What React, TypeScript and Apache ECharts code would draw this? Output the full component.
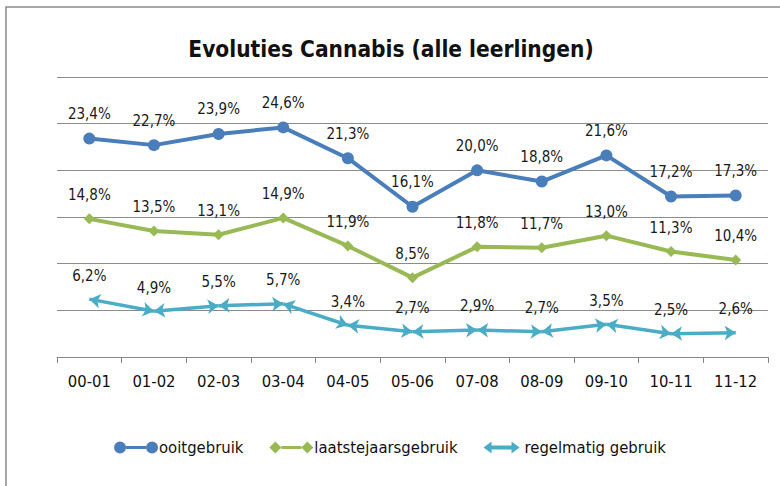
import React, { useEffect, useRef } from "react";
import * as echarts from "echarts";

const categories = ["00-01", "01-02", "02-03", "03-04", "04-05", "05-06", "07-08", "08-09", "09-10", "10-11", "11-12"];
const ooitgebruik = [23.4, 22.7, 23.9, 24.6, 21.3, 16.1, 20.0, 18.8, 21.6, 17.2, 17.3];
const laatstejaarsgebruik = [14.8, 13.5, 13.1, 14.9, 11.9, 8.5, 11.8, 11.7, 13.0, 11.3, 10.4];
const regelmatigGebruik = [6.2, 4.9, 5.5, 5.7, 3.4, 2.7, 2.9, 2.7, 3.5, 2.5, 2.6];
const seriesNames = ["ooitgebruik", "laatstejaarsgebruik", "regelmatig gebruik"];
const titleText = "Evoluties Cannabis (alle leerlingen)";

const FONT = "'DejaVu Sans Condensed', 'DejaVu Sans', sans-serif";
const BLUE = "#4A7EBB";
const GREEN = "#98B954";
const TEAL = "#4BACC6";

const fmt = (p: any) => {
  const v = Array.isArray(p.value) ? p.value[1] : p.value;
  return Number(v).toFixed(1).replace(".", ",") + "%";
};

const circleIcon =
  "path://M0,6 a6,6 0 1,0 12,0 a6,6 0 1,0 -12,0 Z M12,4.5 L32,4.5 L32,7.5 L12,7.5 Z M32,6 a6,6 0 1,0 12,0 a6,6 0 1,0 -12,0 Z";
const diamondIcon =
  "path://M0,6 L6,0 L12,6 L6,12 Z M12,4.5 L32,4.5 L32,7.5 L12,7.5 Z M32,6 L38,0 L44,6 L38,12 Z";
const arrowIcon =
  "path://M4,6 L12,0 L12,4 L32,4 L32,0 L40,6 L32,12 L32,8 L12,8 L12,12 Z";

export default function App() {
  const ref = useRef<HTMLDivElement>(null);
  useEffect(() => {
    document.body.style.margin = "0";
    if (!ref.current) return;
    const chart = echarts.init(ref.current, null, { renderer: "svg" });
    const segData = regelmatigGebruik.slice(0, -1).map((v, i) => ({
      coords: [
        [categories[i], v],
        [categories[i + 1], regelmatigGebruik[i + 1]],
      ],
    }));
    const labelStyle = {
      show: true,
      position: "top" as const,
      fontFamily: FONT,
      fontSize: 15,
      color: "#1a1a1a",
      formatter: fmt,
    };
    chart.setOption({
      animation: false,
      backgroundColor: "#ffffff",
      title: {
        text: titleText,
        left: 386,
        textAlign: "center",
        top: 32,
        textStyle: { fontFamily: FONT, fontSize: 22.5, fontWeight: "bold", color: "#111" },
      },
      grid: { left: 57, right: 12, top: 77, bottom: 129 },
      legend: {
        bottom: 25,
        left: "center",
        itemWidth: 44,
        itemHeight: 12,
        itemGap: 26,
        textStyle: { fontFamily: FONT, fontSize: 16.5, color: "#111", padding: [0, 0, 0, -4] },
        data: [
          { name: seriesNames[0], icon: circleIcon, itemStyle: { color: BLUE } },
          { name: seriesNames[1], icon: diamondIcon, itemStyle: { color: GREEN } },
          { name: seriesNames[2], icon: arrowIcon, itemStyle: { color: TEAL } },
        ],
      },
      xAxis: {
        type: "category",
        data: categories,
        boundaryGap: true,
        axisLine: { lineStyle: { color: "#868686", width: 1 } },
        axisTick: { show: true, length: 6, lineStyle: { color: "#868686" } },
        axisLabel: { fontFamily: FONT, fontSize: 16.5, color: "#111", margin: 16 },
      },
      yAxis: {
        type: "value",
        min: 0,
        max: 30,
        interval: 5,
        axisLabel: { show: false },
        axisLine: { show: false },
        axisTick: { show: false },
        splitLine: { lineStyle: { color: "#8c8c8c", width: 1 } },
      },
      graphic: [
        {
          type: "rect",
          shape: { x: 6, y: 7, width: 800, height: 600 },
          style: { fill: "none", stroke: "#8a8a8a", lineWidth: 1.5 },
          silent: true,
        },
      ],
      series: [
        {
          name: seriesNames[0],
          type: "line",
          data: ooitgebruik,
          symbol: "circle",
          symbolSize: 12,
          lineStyle: { color: BLUE, width: 4 },
          itemStyle: { color: BLUE },
          label: { ...labelStyle, distance: 11 },
          z: 3,
        },
        {
          name: seriesNames[1],
          type: "line",
          data: laatstejaarsgebruik,
          symbol: "diamond",
          symbolSize: 11,
          lineStyle: { color: GREEN, width: 4 },
          itemStyle: { color: GREEN },
          label: { ...labelStyle, distance: 11 },
          z: 3,
        },
        {
          name: seriesNames[2],
          type: "line",
          data: regelmatigGebruik,
          symbol: "circle",
          symbolSize: 2,
          lineStyle: { color: "rgba(0,0,0,0)", width: 0 },
          itemStyle: { color: "rgba(0,0,0,0)" },
          label: { ...labelStyle, distance: 15 },
          z: 3,
        },
        {
          name: seriesNames[2] + " segments",
          type: "lines",
          coordinateSystem: "cartesian2d",
          data: segData,
          symbol: ["arrow", "arrow"],
          symbolSize: 11,
          lineStyle: { color: TEAL, width: 3.5, opacity: 1, curveness: 0 },
          z: 3,
        },
      ],
    });
    return () => chart.dispose();
  }, []);
  return <div ref={ref} style={{ width: 780, height: 486 }} />;
}
